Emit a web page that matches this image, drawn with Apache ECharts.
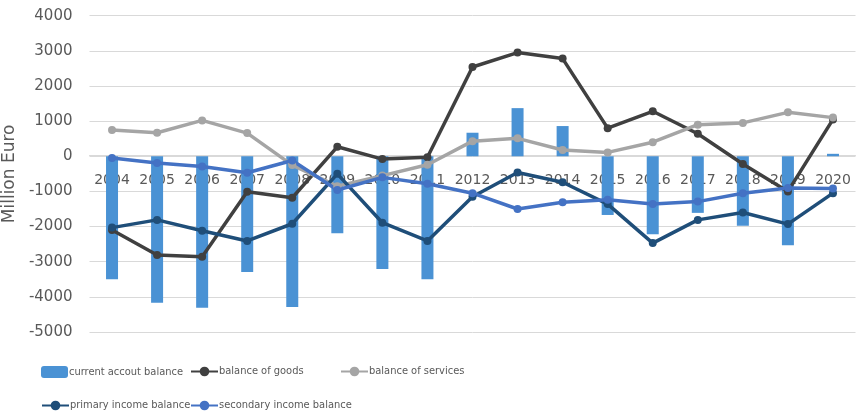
<!DOCTYPE html>
<html>
<head>
<meta charset="utf-8">
<script src="https://cdn.jsdelivr.net/npm/echarts@6/dist/echarts.min.js"></script>
<style>
  html, body { margin: 0; padding: 0; background: #fff; }
  #chart { width: 862px; height: 414px; }
</style>
</head>
<body>
<div id="chart"></div>
<script>
// Data (million euro)
const years = ["2004", "2005", "2006", "2007", "2008", "2009", "2010", "2011", "2012",
  "2013", "2014", "2015", "2016", "2017", "2018", "2019", "2020"];
const currentAccount = [-3500, -4170, -4310, -3290, -4290, -2190, -3210, -3500, 670,
  1370, 860, -1670, -2220, -1610, -1980, -2530, 70];
const goods = [-2100, -2810, -2860, -1010, -1180, 270, -80, -30, 2540,
  2950, 2780, 800, 1280, 640, -220, -1000, 1050];
const services = [750, 670, 1020, 660, -250, -850, -550, -240, 430,
  510, 180, 110, 400, 900, 950, 1250, 1100];
const primaryIncome = [-2030, -1810, -2120, -2410, -1920, -500, -1890, -2410, -1150,
  -460, -740, -1360, -2470, -1810, -1600, -1930, -1050];
const secondaryIncome = [-50, -190, -290, -470, -120, -960, -600, -780, -1050,
  -1500, -1310, -1240, -1360, -1290, -1050, -900, -920];
const yTicks = { min: -5000, max: 4000, step: 1000 };

const chart = echarts.init(document.getElementById("chart"));

const narrow = "Liberation Sans Narrow, DejaVu Sans Condensed, sans-serif";
const lineSeries = (name, data, color) => ({
  name: name,
  type: "line",
  data: data,
  symbol: "circle",
  symbolSize: 8,
  lineStyle: { width: 3.5, color: color },
  itemStyle: { color: color },
  z: 3,
});

// One legend per item so they sit like the original two rows
const legendBox = (name, left, top) => ({
  data: [name],
  left: left,
  top: top,
  itemWidth: 27,
  itemHeight: 12,
  itemGap: 0,
  textStyle: { fontFamily: narrow, fontSize: 11, color: "#595959", padding: [0, 0, 0, -4] },
});

const option = {
  animation: false,
  grid: { left: 89.5, right: 6.5, top: 15.7, bottom: 82, outerBoundsMode: "none" },
  legend: [
    legendBox("current accout balance", 36, 361),
    legendBox("balance of goods", 185, 361),
    legendBox("balance of services", 335, 361),
    legendBox("primary income balance", 36, 395),
    legendBox("secondary income balance", 185, 395),
  ],
  xAxis: {
    type: "category",
    data: years,
    // x axis sits on the zero line
    offset: -176.3,
    axisLine: { onZero: false, lineStyle: { color: "#d9d9d9" } },
    axisTick: { show: false },
    axisLabel: { color: "#595959", fontSize: 14, fontFamily: "DejaVu Sans", margin: 18, interval: 0 },
  },
  yAxis: {
    type: "value",
    min: yTicks.min,
    max: yTicks.max,
    interval: yTicks.step,
    name: "Million Euro",
    nameLocation: "middle",
    nameGap: 66,
    nameTextStyle: { color: "#595959", fontSize: 17, fontFamily: "DejaVu Sans" },
    axisLabel: {
      color: "#595959",
      fontSize: 15,
      fontFamily: "DejaVu Sans",
      margin: 17,
      formatter: (v) => String(v),
    },
    splitLine: { lineStyle: { color: "#d9d9d9", width: 1 } },
  },
  series: [
    {
      name: "current accout balance",
      type: "bar",
      data: currentAccount,
      barWidth: 12,
      itemStyle: { color: "#4a92d4" },
      z: 2,
    },
    lineSeries("balance of goods", goods, "#404040"),
    lineSeries("balance of services", services, "#a5a5a5"),
    lineSeries("primary income balance", primaryIncome, "#1f4e79"),
    lineSeries("secondary income balance", secondaryIncome, "#4472c4"),
  ],
};

chart.setOption(option);
</script>
</body>
</html>
